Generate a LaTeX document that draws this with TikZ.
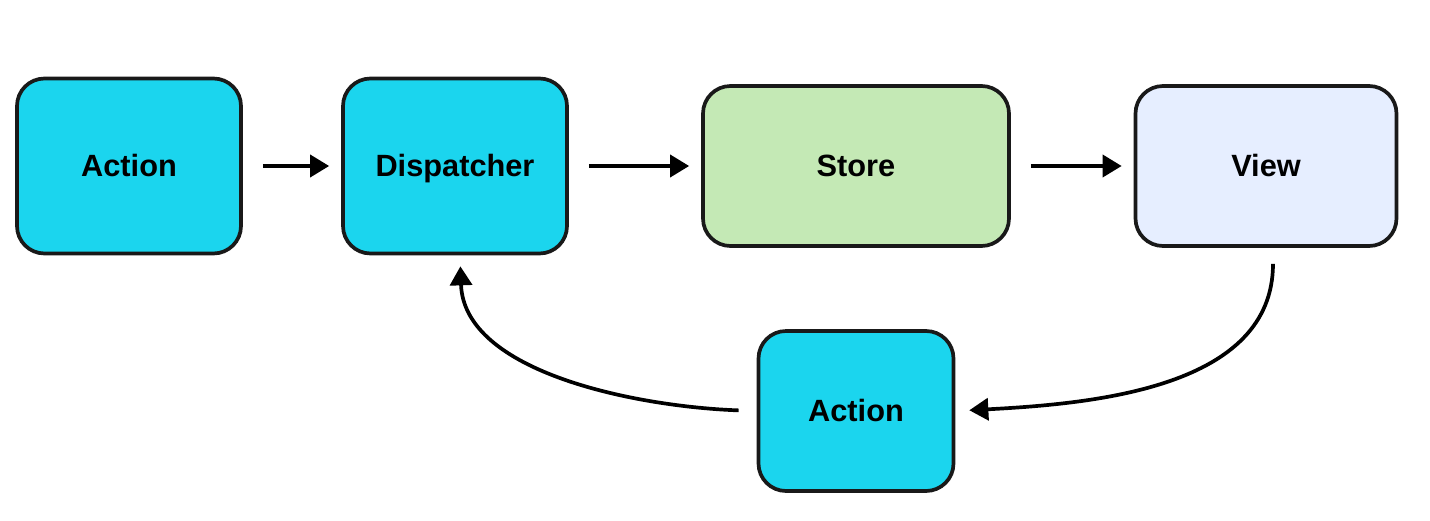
\documentclass[tikz,border=0pt]{standalone}
\usepackage{fontspec}
\setmainfont{Liberation Sans}
\usetikzlibrary{arrows.meta}
\definecolor{boxcyan}{RGB}{27,213,238}
\definecolor{boxgreen}{RGB}{196,233,181}
\definecolor{boxblue}{RGB}{230,238,255}

\begin{document}
\begin{tikzpicture}[line width=2.1pt,>={Triangle[length=0.38cm,width=0.44cm]},box/.style={draw=black!90,rounded corners=0.55cm,minimum width=4.48cm,minimum height=3.2cm,text height=12.5pt,text depth=0pt,font=\fontsize{17.5}{20}\selectfont\bfseries},arr/.style={->,shorten <=0.4cm,shorten >=0.24cm}]
\useasboundingbox (0,0) rectangle (28.6,-10.42);
\node[box,fill=boxcyan,minimum height=3.5cm] (a1) at (2.58,-3.32) {Action};
\node[box,fill=boxcyan,minimum height=3.5cm] (d) at (9.10,-3.32) {Dispatcher};
\node[box,fill=boxgreen,minimum width=6.12cm] (s) at (17.12,-3.32) {Store};
\node[box,fill=boxblue,minimum width=5.22cm] (v) at (25.32,-3.32) {View};
\node[box,fill=boxcyan,minimum width=3.9cm] (a2) at (17.12,-8.22) {Action};
\draw[arr] (a1) -- (d);
\draw[arr] (d) -- (s);
\draw[arr] (s) -- (v);
\draw[arr,shorten <=0.32cm,shorten >=0.28cm] ([xshift=0.14cm]v.south) to[out=-90,in=3] (a2.east);
\draw[arr,shorten <=0.36cm,shorten >=0.22cm] (a2.west) to[out=178,in=-88,looseness=0.9] ([xshift=0.1cm]d.south);
\end{tikzpicture}
\end{document}
